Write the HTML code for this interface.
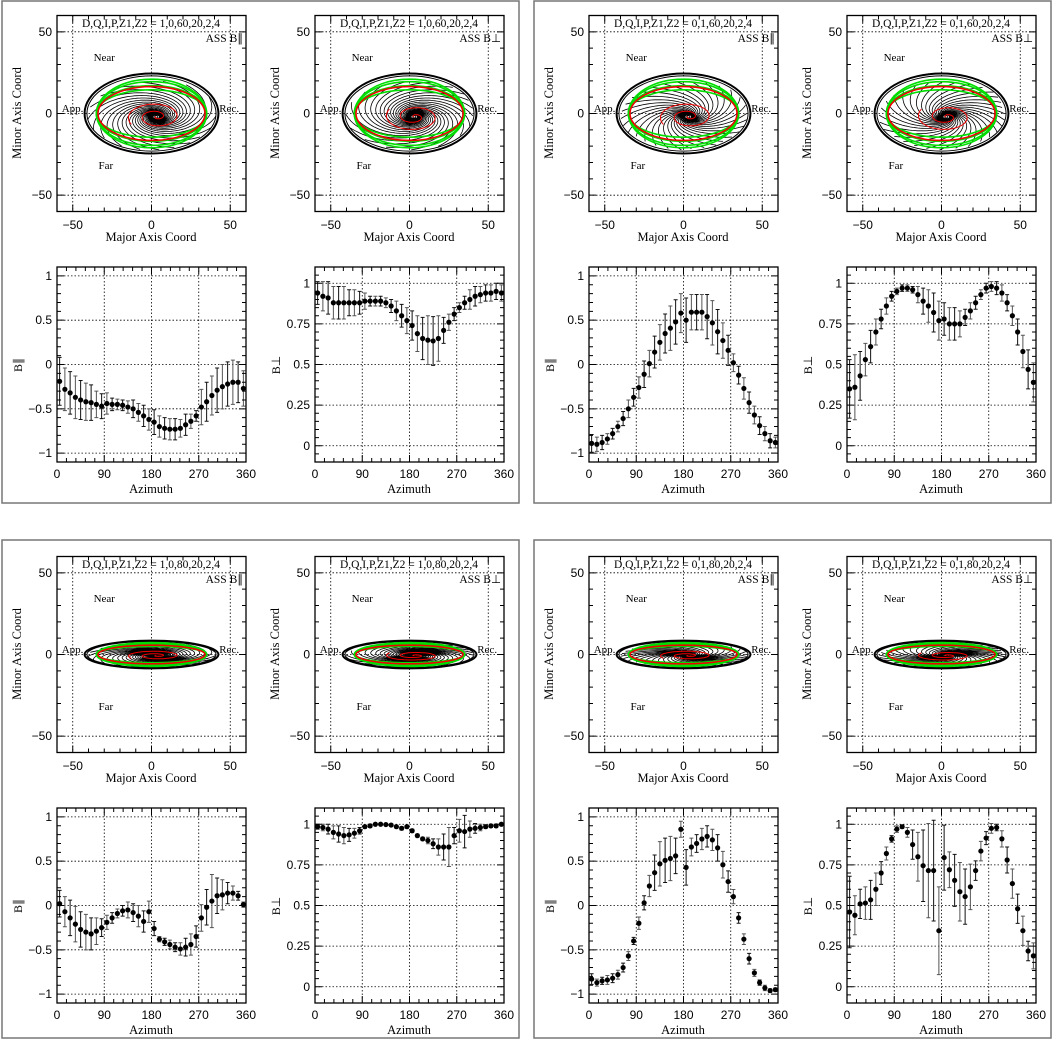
<!DOCTYPE html>
<html><head><meta charset="utf-8"><title>ASS field models</title>
<style>
html,body{margin:0;padding:0;background:#fff;}
svg{display:block;}
text{font-family:"Liberation Sans",sans-serif;}
.serif{font-family:"Liberation Serif",serif;}
</style></head>
<body>
<svg id="fig" width="1053" height="1043" viewBox="0 0 1053 1043" xmlns="http://www.w3.org/2000/svg"></svg>
<script>
// ---- data ----
const azimuth=[5,15,25,35,45,55,65,75,85,95,105,115,125,135,145,155,165,175,185,195,205,215,225,235,245,255,265,275,285,295,305,315,325,335,345,355];
const xAzTicks=[0,90,180,270,360];
const yParTicks=[-1,-0.5,0,0.5,1];
const yParLabels=["\u22121","\u22120.5","0","0.5","1"];
const yPerpTicks=[0,0.25,0.5,0.75,1];
const yPerpLabels=["0","0.25","0.5","0.75","1"];
const mapTicks=[-50,0,50];
const mapLabels=["\u221250","0","50"];
const boxTitles=["1,0,60,20,2,4","0,1,60,20,2,4","1,0,80,20,2,4","0,1,80,20,2,4"];
const boxIncl=[60,60,80,80];
const greenRy=[14.5,17,19.5,21];
const redRy=[16.5];

const par1=[-0.19,-0.28,-0.32,-0.37,-0.40,-0.42,-0.43,-0.45,-0.47,-0.44,-0.45,-0.45,-0.46,-0.48,-0.50,-0.54,-0.58,-0.62,-0.65,-0.70,-0.72,-0.73,-0.73,-0.72,-0.68,-0.64,-0.58,-0.48,-0.42,-0.35,-0.29,-0.25,-0.22,-0.20,-0.20,-0.27];
const parErr1=[0.27,0.24,0.24,0.24,0.22,0.21,0.2,0.15,0.14,0.12,0.07,0.06,0.06,0.07,0.1,0.1,0.12,0.12,0.14,0.12,0.12,0.12,0.12,0.1,0.12,0.08,0.06,0.2,0.22,0.22,0.25,0.25,0.25,0.25,0.23,0.2];
const perp1=[0.94,0.92,0.91,0.88,0.88,0.88,0.88,0.88,0.88,0.89,0.89,0.89,0.89,0.88,0.86,0.83,0.80,0.77,0.74,0.69,0.66,0.65,0.645,0.66,0.71,0.76,0.81,0.85,0.88,0.90,0.92,0.93,0.94,0.94,0.95,0.94];
const perpErr1=[0.07,0.09,0.1,0.1,0.1,0.1,0.08,0.08,0.07,0.05,0.03,0.03,0.03,0.03,0.04,0.06,0.07,0.08,0.09,0.11,0.13,0.15,0.15,0.14,0.08,0.05,0.04,0.03,0.04,0.06,0.06,0.05,0.05,0.05,0.05,0.05];
const par2=[-0.89,-0.90,-0.88,-0.84,-0.78,-0.70,-0.61,-0.50,-0.37,-0.26,-0.11,0.01,0.14,0.25,0.35,0.41,0.48,0.58,0.50,0.59,0.59,0.59,0.54,0.47,0.37,0.27,0.16,0.02,-0.12,-0.27,-0.43,-0.57,-0.69,-0.78,-0.86,-0.88];
const parErr2=[0.1,0.08,0.08,0.06,0.06,0.06,0.08,0.1,0.1,0.12,0.15,0.15,0.18,0.2,0.22,0.25,0.25,0.22,0.25,0.2,0.2,0.2,0.25,0.25,0.25,0.2,0.17,0.1,0.1,0.12,0.12,0.1,0.1,0.08,0.08,0.06];
const perp2=[0.35,0.36,0.43,0.53,0.61,0.70,0.78,0.86,0.92,0.95,0.97,0.97,0.96,0.93,0.89,0.86,0.82,0.77,0.78,0.75,0.75,0.75,0.79,0.83,0.88,0.93,0.97,0.98,0.97,0.94,0.88,0.80,0.70,0.58,0.47,0.39];
const perpErr2=[0.18,0.2,0.15,0.1,0.1,0.08,0.06,0.05,0.03,0.02,0.02,0.02,0.02,0.05,0.08,0.1,0.12,0.12,0.1,0.1,0.1,0.08,0.05,0.05,0.04,0.03,0.03,0.03,0.04,0.05,0.05,0.06,0.08,0.1,0.12,0.12];
const par3=[0.02,-0.07,-0.14,-0.21,-0.27,-0.30,-0.32,-0.29,-0.25,-0.19,-0.14,-0.09,-0.06,-0.05,-0.08,-0.12,-0.18,-0.07,-0.26,-0.38,-0.41,-0.44,-0.47,-0.49,-0.47,-0.44,-0.35,-0.14,-0.02,0.05,0.11,0.12,0.14,0.14,0.11,0.01];
const parErr3=[0.15,0.17,0.2,0.2,0.2,0.2,0.18,0.15,0.1,0.08,0.06,0.05,0.06,0.09,0.1,0.12,0.12,0.12,0.08,0.03,0.04,0.05,0.05,0.07,0.1,0.12,0.12,0.15,0.2,0.3,0.2,0.17,0.12,0.08,0.05,0.03];
const perp3=[0.985,0.98,0.97,0.95,0.94,0.93,0.935,0.945,0.96,0.985,0.99,1.0,1.0,0.998,0.995,0.985,0.975,0.985,0.96,0.93,0.91,0.9,0.88,0.86,0.86,0.86,0.93,0.96,0.955,0.97,0.975,0.98,0.985,0.99,0.99,1.0];
const perpErr3=[0.015,0.02,0.03,0.04,0.05,0.05,0.04,0.03,0.02,0.01,0.01,0.005,0.005,0.005,0.005,0.01,0.01,0.01,0.01,0.01,0.01,0.02,0.03,0.05,0.08,0.12,0.05,0.07,0.1,0.05,0.03,0.02,0.01,0.01,0.01,0.005];
const par4=[-0.83,-0.87,-0.85,-0.84,-0.82,-0.78,-0.70,-0.57,-0.40,-0.20,0.03,0.22,0.37,0.47,0.51,0.53,0.56,0.86,0.43,0.66,0.70,0.75,0.78,0.74,0.65,0.46,0.27,0.10,-0.14,-0.38,-0.60,-0.76,-0.87,-0.93,-0.96,-0.95];
const parErr4=[0.06,0.04,0.04,0.05,0.05,0.05,0.05,0.05,0.04,0.07,0.08,0.12,0.2,0.25,0.25,0.25,0.2,0.09,0.2,0.1,0.1,0.12,0.12,0.12,0.15,0.15,0.12,0.08,0.06,0.06,0.06,0.04,0.03,0.03,0.02,0.02];
const perp4=[0.46,0.44,0.51,0.515,0.535,0.60,0.70,0.82,0.91,0.97,0.985,0.95,0.875,0.80,0.745,0.715,0.715,0.345,0.795,0.72,0.655,0.585,0.555,0.615,0.715,0.835,0.915,0.975,0.98,0.91,0.78,0.635,0.48,0.345,0.22,0.19];
const perpErr4=[0.22,0.12,0.09,0.1,0.12,0.1,0.07,0.04,0.02,0.02,0.01,0.03,0.09,0.15,0.22,0.29,0.31,0.27,0.2,0.11,0.16,0.18,0.17,0.14,0.06,0.06,0.04,0.03,0.02,0.05,0.08,0.09,0.09,0.09,0.06,0.08];

const boxPar=[par1,par2,par3,par4], boxParErr=[parErr1,parErr2,parErr3,parErr4];
const boxPerp=[perp1,perp2,perp3,perp4], boxPerpErr=[perpErr1,perpErr2,perpErr3,perpErr4];

// ---- drawing ----
const NS="http://www.w3.org/2000/svg";
const svg=document.getElementById('fig');
function mk(tag,attrs,parent){const e=document.createElementNS(NS,tag);for(const k in attrs)e.setAttribute(k,attrs[k]);(parent||svg).appendChild(e);return e;}
function txt(str,attrs,parent){const e=mk('text',attrs,parent);e.textContent=str;return e;}

function frameTicks(g,X,Y,xs,ys,xMaj,yMaj){
  let d="";
  const [x0,x1]=X.range,[y0,y1]=Y.range;
  xs.forEach(v=>{const L=xMaj(v)?7:4;const px=X(v);d+=`M${px},${y1}v${-L}M${px},${y0}v${L}`;});
  ys.forEach(v=>{const L=yMaj(v)?7:4;const py=Y(v);d+=`M${x0},${py}h${L}M${x1},${py}h${-L}`;});
  const p=mk('path',{d:d,stroke:'#000','stroke-width':1,fill:'none'},g);
  
  
}
function scale(d0,d1,r0,r1){const f=v=>r0+(v-d0)*(r1-r0)/(d1-d0);f.range=[r0,r1];return f;}
function range(a,b,s){const r=[];for(let v=a;v<=b+1e-9;v+=s)r.push(+v.toFixed(4));return r;}

function drawMap(b,col,ox,oy){
  const px=ox+col*258;
  const g=mk('g',{});
  
  
  const X=scale(-60,60,px+57,px+246), Y=scale(60,-60,oy+15.5,oy+211.5);
  const cid='clipm'+b+'_'+col;
  const cp=mk('clipPath',{id:cid},g);mk('rect',{x:px+57,y:oy+15.5,width:189,height:196},cp);
  mapTicks.forEach(v=>{
    const gl=mk('line',{x1:X(v),x2:X(v),y1:Y(60),y2:Y(-60),stroke:'#000','stroke-width':0.8,'stroke-dasharray':'1.5,2'},g);
    
    
    const gl2=mk('line',{x1:X(-60),x2:X(60),y1:Y(v),y2:Y(v),stroke:'#000','stroke-width':0.8,'stroke-dasharray':'1.5,2'},g);
    
    
  });
  const inc=boxIncl[b]*Math.PI/180, ci=Math.cos(inc);
  const sx=X(1)-X(0), sy=Y(0)-Y(1);
  const cx=3, cy=-2*ci/0.5;
  const cg=mk('g',{'clip-path':`url(#${cid})`},g);
  const outerRy=[24.5*ci/0.5,23*ci/0.5];
  outerRy.forEach((ry,i)=>{
    const e=mk('ellipse',{cx:X(0),cy:Y(0),rx:(42.5-i*1.5)*sx,ry:ry*sy,fill:'none',stroke:'#000','stroke-width':i?1:2},cg);
    
    
  });
  const nLines=b%2?30:18, pitch=b%2?0.9:0.35;
  let d="";
  for(let k=0;k<nLines;k++){
    const a0=k*2*Math.PI/nLines;let first=true;
    for(let t=0;t<=30;t+=0.05){
      const r=2*Math.exp(t*pitch);
      if(r>44)break;
      const a=a0+t*(col?-1:1);
      const xd=cx+r*Math.cos(a), yd=cy+r*Math.sin(a)*ci;
      if((xd/41)**2+(yd/(22.5*ci/0.5))**2>1)break;
      d+=(first?'M':'L')+X(xd).toFixed(1)+','+Y(yd).toFixed(1);first=false;
    }
  }
  for(let r=1;r<=5;r+=1){
    d+=`M${X(cx+r)},${Y(cy)}A${r*sx},${r*ci*sy*1.4} 0 1 0 ${X(cx-r)},${Y(cy)}A${r*sx},${r*ci*sy*1.4} 0 1 0 ${X(cx+r)},${Y(cy)}`;
  }
  const fl=mk('path',{d:d,fill:'none',stroke:'#000','stroke-width':0.8},cg);
  
  
  greenRy.forEach(ry=>{
    const e=mk('ellipse',{cx:X(0),cy:Y(0),rx:35*sx,ry:ry*ci/0.5*sy,fill:'none',stroke:'#00dd00','stroke-width':1.6},cg);
    
    
  });
  redRy.forEach(ry=>{
    const e=mk('ellipse',{cx:X(0),cy:Y(0),rx:34*sx,ry:ry*ci/0.5*sy,fill:'none',stroke:'#ee0000','stroke-width':1.6},cg);
    
    
  });
  let sd="";
  for(let t=0;t<=4.2*Math.PI;t+=0.1){
    const r=1.4*t, a=t*(col?-1:1)+Math.PI;
    const xd=cx+r*Math.cos(a), yd=cy+r*Math.sin(a)*ci;
    sd+=(t?'L':'M')+X(xd).toFixed(1)+','+Y(yd).toFixed(1);
  }
  const sp=mk('path',{d:sd,fill:'none',stroke:'#ee0000','stroke-width':1},cg);
  
  
  const fr=mk('rect',{x:px+57,y:oy+15.5,width:189,height:196,fill:'none',stroke:'#000','stroke-width':1.3},g);
  
  
  frameTicks(g,X,Y,range(-60,60,10),range(-60,60,10),v=>v%50===0,v=>v%50===0);
  mapTicks.forEach((v,i)=>{
    const t1=txt(mapLabels[i],{x:X(v),y:oy+229,'font-size':12,'text-anchor':'middle'},g);
    
    
    const t2=txt(mapLabels[i],{x:px+52,y:Y(v)+4,'font-size':12,'text-anchor':'end'},g);
    
    
  });
  const xt=txt('Major Axis Coord',{x:px+151,y:oy+241,'font-size':12.5,'text-anchor':'middle',class:'serif'},g);
  
  
  const yt=txt('Minor Axis Coord',{x:0,y:0,'font-size':12.5,'text-anchor':'middle',class:'serif',transform:`translate(${px+21},${oy+113}) rotate(-90)`},g);
  
  
  const tt=txt('D,Q,I,P,Z1,Z2 = '+boxTitles[b],{x:px+151,y:oy+27,'font-size':11.5,'text-anchor':'middle',class:'serif'},g);
  
  
  const at=txt(col?'ASS B\u22A5':'ASS B\u2225',{x:px+243,y:oy+42,'font-size':11.5,'text-anchor':'end',class:'serif'},g);
  
  
  const labs=[['Near',-30,32,'middle'],['Far',-29,-34,'middle'],['App.',-57,1,'start'],['Rec.',43,1,'start']];
  labs.forEach(l=>{
    const e=txt(l[0],{x:X(l[1]),y:Y(l[2]),'font-size':11,'text-anchor':l[3],class:'serif'},g);
    
    
  });
}

function drawScatter(b,col,ox,oy){
  const px=ox+col*258;
  const isPerp=col===1;
  const vals=isPerp?boxPerp[b]:boxPar[b], errs=isPerp?boxPerpErr[b]:boxParErr[b];
  const g=mk('g',{});
  
  
  const X=scale(0,360,px+57,px+246);
  const Y=isPerp?scale(1.1,-0.1,oy+267,oy+462):scale(1.1,-1.1,oy+267,oy+462);
  const yt=isPerp?yPerpTicks:yParTicks, yl=isPerp?yPerpLabels:yParLabels;
  xAzTicks.slice(1,4).forEach(v=>{
    const l=mk('line',{x1:X(v),x2:X(v),y1:oy+267,y2:oy+462,stroke:'#000','stroke-width':0.8,'stroke-dasharray':'1.5,2'},g);
    
    
  });
  yt.forEach(v=>{
    const l=mk('line',{x1:px+57,x2:px+246,y1:Y(v),y2:Y(v),stroke:'#000','stroke-width':0.8,'stroke-dasharray':'1.5,2'},g);
    
    
  });
  azimuth.forEach((az,i)=>{
    const x=X(az), y=Y(vals[i]), e=errs[i];
    const yTop=Math.max(Y(vals[i]+e),oy+267), yBot=Math.min(Y(vals[i]-e),oy+462);
    const eb=mk('path',{d:`M${x},${yTop}V${yBot}M${x-2},${yTop}h4M${x-2},${yBot}h4`,stroke:i%2?'#555':'#111','stroke-width':1,fill:'none'},g);
    
    
    const c=mk('circle',{cx:x,cy:y,r:2.6,fill:'#000'},g);
    
    
  });
  const fr=mk('rect',{x:px+57,y:oy+267,width:189,height:195,fill:'none',stroke:'#000','stroke-width':1.3},g);
  
  
  frameTicks(g,X,Y,range(0,360,18),isPerp?range(-0.1,1.1,0.05):range(-1.1,1.1,0.1),v=>v%90===0,v=>Math.abs(v*(isPerp?4:2)-Math.round(v*(isPerp?4:2)))<1e-6);
  xAzTicks.forEach(v=>{
    const t=txt(String(v),{x:X(v),y:oy+478,'font-size':12,'text-anchor':'middle'},g);
    
    
  });
  yt.forEach((v,i)=>{
    const t=txt(yl[i],{x:px+52,y:Y(v)+4,'font-size':12,'text-anchor':'end'},g);
    
    
  });
  const xt=txt('Azimuth',{x:px+151,y:oy+493,'font-size':12.5,'text-anchor':'middle',class:'serif'},g);
  
  
  const ytt=txt(isPerp?'B\u22A5':'B\u2225',{x:0,y:0,'font-size':12,'text-anchor':'middle',class:'serif',transform:`translate(${px+22},${oy+365}) rotate(-90)`},g);
  
  
}

for(let b=0;b<4;b++){
  const ox=(b%2)*532, oy=Math.floor(b/2)*541;
  const box=mk('rect',{x:ox+2,y:oy+(b<2?1:-1),width:517,height:b<2?502:498,fill:'none',stroke:'#777','stroke-width':1.5});
  
  
  drawMap(b,0,ox,oy);drawMap(b,1,ox,oy);
  drawScatter(b,0,ox,oy);drawScatter(b,1,ox,oy);
}
</script>
</body></html>
